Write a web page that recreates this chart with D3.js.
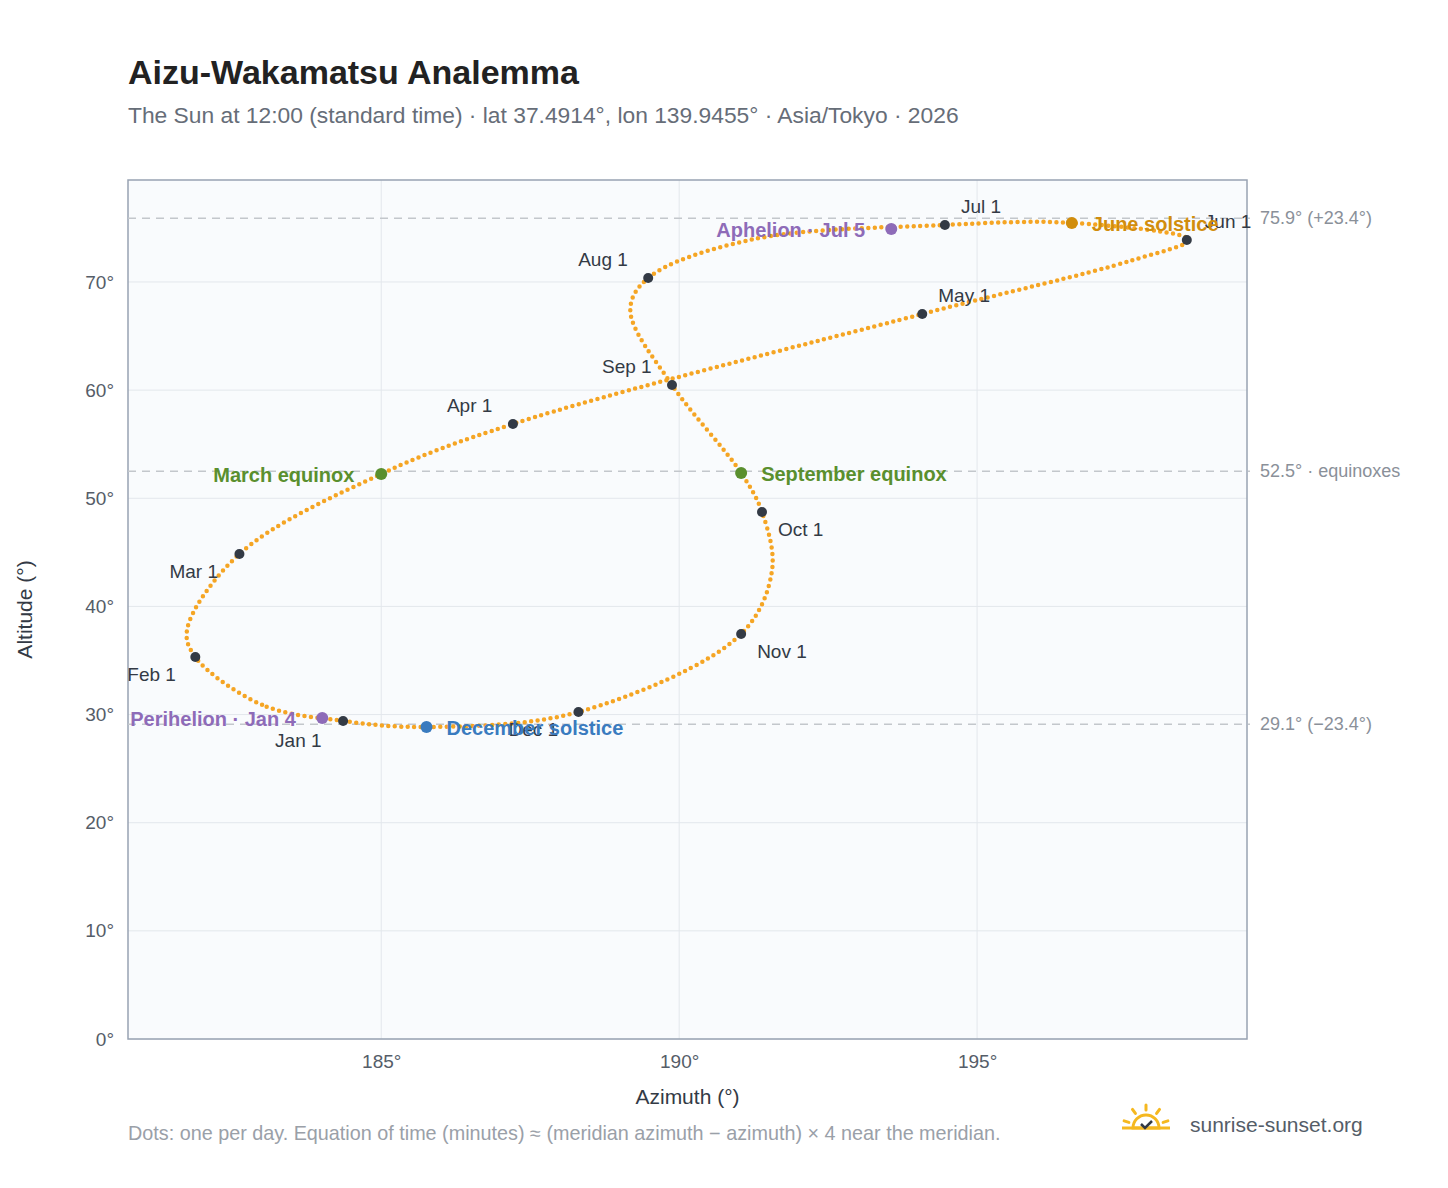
<!DOCTYPE html>
<html><head><meta charset="utf-8">
<script src="https://cdn.jsdelivr.net/npm/d3@7"></script>
<style>
body{margin:0;background:#fff;font-family:"Liberation Sans",Arial,sans-serif}
.grid line{stroke:#e3e7ec}
.axis text{fill:#555d68;font-size:19px}
.axis path,.axis line{display:none}
</style></head><body>
<svg id="c" width="1448" height="1188"></svg>
<script>
// path of the sun, key points, in date order [azimuth, altitude]
var trackPoints = [
  [184.36, 29.41], [183.0, 30.9], [181.88, 35.32], [181.74, 37.8], [182.62, 44.85],
  [185.0, 52.25], [187.21, 56.87], [194.08, 67.04], [197.6, 72.0], [198.55, 73.9],
  [196.59, 75.46], [194.46, 75.27], [191.2, 73.9], [189.48, 70.37], [189.18, 67.4],
  [189.88, 60.48], [191.04, 52.34], [191.39, 48.73], [191.56, 43.4], [191.04, 37.45],
  [188.31, 30.24], [185.76, 28.85]
]
var monthNames = ['Jan 1','Feb 1','Mar 1','Apr 1','May 1','Jun 1','Jul 1','Aug 1','Sep 1','Oct 1','Nov 1','Dec 1']
var monthAz = [184.36, 181.88, 182.62, 187.21, 194.08, 198.52, 194.46, 189.48, 189.88, 191.39, 191.04, 188.31]
var monthAlt = [29.41, 35.32, 44.85, 56.87, 67.04, 73.88, 75.27, 70.37, 60.48, 48.73, 37.45, 30.24]
var eventNames = ['March equinox', 'June solstice', 'September equinox', 'December solstice', 'Perihelion · Jan 4', 'Aphelion · Jul 5']
var eventAz = [185.0, 196.59, 191.04, 185.76, 184.01, 193.56]
var eventAlt = [52.25, 75.46, 52.34, 28.85, 29.68, 74.9]
var eventColors = ['#5a8f2e', '#d18d0c', '#5a8f2e', '#3a7bbf', '#8e6bb8', '#8e6bb8']
var refAlt = [75.9, 52.5, 29.1]
var refLabels = ['75.9° (+23.4°)', '52.5° · equinoxes', '29.1° (−23.4°)']
var xTicks = [185, 190, 195]
var yTicks = [0, 10, 20, 30, 40, 50, 60, 70]

// label placement (styling)
var monthOffsets = [[-68,26],[-68,24],[-70,24],[-66,-12],[16,-12],[18,-12],[16,-12],[-70,-12],[-70,-12],[16,24],[16,24],[-70,24]]
var eventOffsets = [[-168,8],[20,8],[20,8],[20,8],[-192,8],[-175,8]]

var svg = d3.select('#c')
var pLeft = 128, pRight = 1247, pTop = 180, pBottom = 1039
var x = d3.scaleLinear().domain([180.75, 199.53]).range([pLeft, pRight])
var y = d3.scaleLinear().domain([0, 79.43]).range([pBottom, pTop])

svg.append('text').attr('x', 128).attr('y', 84).attr('font-size', 34).attr('font-weight', 'bold').attr('fill', '#222').text('Aizu-Wakamatsu Analemma')
svg.append('text').attr('x', 128).attr('y', 123).attr('font-size', 22.8).attr('fill', '#666d78')
  .text('The Sun at 12:00 (standard time) · lat 37.4914°, lon 139.9455° · Asia/Tokyo · 2026')

svg.append('rect').attr('x', pLeft).attr('y', pTop).attr('width', pRight - pLeft).attr('height', pBottom - pTop).attr('fill', '#f9fbfd')

var grid = svg.append('g').attr('class', 'grid')
grid.selectAll('.gx').data(xTicks).enter().append('line')
  .attr('x1', x).attr('x2', x).attr('y1', pTop).attr('y2', pBottom)
grid.selectAll('.gy').data(yTicks).enter().append('line')
  .attr('x1', pLeft).attr('x2', pRight).attr('y1', y).attr('y2', y)

svg.append('g').attr('class', 'axis').attr('transform', 'translate(0,' + (pBottom + 8) + ')')
  .call(d3.axisBottom(x).tickValues(xTicks).tickFormat(function(d) { return d + '°' }).tickSize(0).tickPadding(8))
svg.append('g').attr('class', 'axis').attr('transform', 'translate(' + (pLeft - 14) + ',0)')
  .call(d3.axisLeft(y).tickValues(yTicks).tickFormat(function(d) { return d + '°' }).tickSize(0).tickPadding(0))

svg.append('rect').attr('x', pLeft).attr('y', pTop).attr('width', pRight - pLeft).attr('height', pBottom - pTop)
  .attr('fill', 'none').attr('stroke', '#98a3b2').attr('stroke-width', 1.5)

// reference lines
refAlt.forEach(function(a, i) {
  svg.append('line').attr('x1', pLeft).attr('x2', 1250).attr('y1', y(a)).attr('y2', y(a))
    .attr('stroke', '#c3c7cc').attr('stroke-width', 1.5).attr('stroke-dasharray', '8 6')
  svg.append('text').attr('x', 1260).attr('y', y(a) + 6).attr('font-size', 18).attr('fill', '#8a9099').text(refLabels[i])
})

// daily dots as a dotted curve
var line = d3.line().x(function(d) { return x(d[0]) }).y(function(d) { return y(d[1]) }).curve(d3.curveCatmullRomClosed)
svg.append('path').attr('d', line(trackPoints)).attr('fill', 'none')
  .attr('stroke', '#f5a524').attr('stroke-width', 4.5).attr('stroke-linecap', 'round').attr('stroke-dasharray', '0 6.5')

// month markers
monthNames.forEach(function(m, i) {
  svg.append('circle').attr('cx', x(monthAz[i])).attr('cy', y(monthAlt[i])).attr('r', 5).attr('fill', '#333a45')
  svg.append('text').attr('x', x(monthAz[i]) + monthOffsets[i][0]).attr('y', y(monthAlt[i]) + monthOffsets[i][1])
    .attr('font-size', 19).attr('fill', '#333a45').text(m)
})

// events
eventNames.forEach(function(e, i) {
  svg.append('circle').attr('cx', x(eventAz[i])).attr('cy', y(eventAlt[i])).attr('r', 6).attr('fill', eventColors[i])
  svg.append('text').attr('x', x(eventAz[i]) + eventOffsets[i][0]).attr('y', y(eventAlt[i]) + eventOffsets[i][1])
    .attr('font-size', 20).attr('font-weight', 'bold').attr('fill', eventColors[i]).text(e)
})

svg.append('text').attr('x', (pLeft + pRight) / 2).attr('y', 1104).attr('text-anchor', 'middle').attr('font-size', 21).attr('fill', '#333a45').text('Azimuth (°)')
svg.append('text').attr('transform', 'translate(32,' + ((pTop + pBottom) / 2) + ') rotate(-90)').attr('text-anchor', 'middle')
  .attr('font-size', 21).attr('fill', '#333a45').text('Altitude (°)')

svg.append('text').attr('x', 128).attr('y', 1140).attr('font-size', 19.8).attr('fill', '#9aa0a8')
  .text('Dots: one per day. Equation of time (minutes) ≈ (meridian azimuth − azimuth) × 4 near the meridian.')

// logo
var logo = svg.append('g').attr('transform', 'translate(1146,1128)')
logo.append('path').attr('d', d3.arc()({innerRadius: 0, outerRadius: 13, startAngle: -Math.PI / 2, endAngle: Math.PI / 2}))
  .attr('fill', 'none').attr('stroke', '#f5b820').attr('stroke-width', 3)
d3.range(-2, 3).forEach(function(k) {
  var a = k * Math.PI / 5
  logo.append('line').attr('x1', 18 * Math.sin(a)).attr('y1', -18 * Math.cos(a)).attr('x2', 23 * Math.sin(a)).attr('y2', -23 * Math.cos(a))
    .attr('stroke', '#f5b820').attr('stroke-width', 3).attr('stroke-linecap', 'round')
})
logo.append('line').attr('x1', -24).attr('x2', 24).attr('y1', 0).attr('y2', 0).attr('stroke', '#f5b820').attr('stroke-width', 3)
logo.append('path').attr('d', 'M-5,-4 L-1,0 L6,-7').attr('fill', 'none').attr('stroke', '#333a45').attr('stroke-width', 2.5)
svg.append('text').attr('x', 1190).attr('y', 1132).attr('font-size', 21).attr('fill', '#555d68').text('sunrise-sunset.org')
</script></body></html>
